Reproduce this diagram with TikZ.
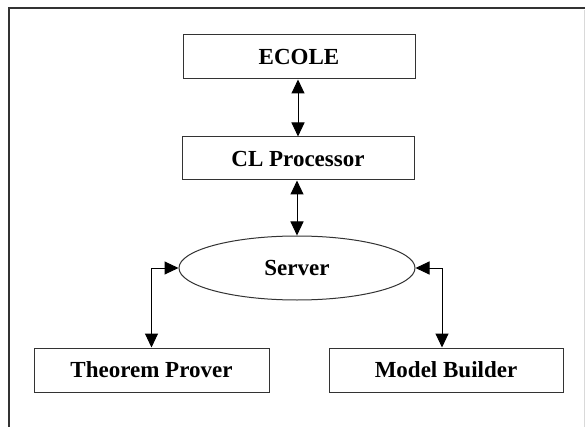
\documentclass[tikz,border=0pt]{standalone}
\usepackage{fontspec}
\setmainfont{Liberation Serif}
\usetikzlibrary{arrows.meta,shapes.geometric}
\begin{document}
\begin{tikzpicture}[x=1pt,y=-1pt,
  lbl/.style={font=\fontsize{23}{26}\selectfont\bfseries},
  box/.style={draw=black!80,line width=1pt,rectangle,inner sep=0pt,lbl},
  link/.style={line width=1pt,{Triangle[length=14pt,width=13pt]}-{Triangle[length=14pt,width=13pt]}}]
\useasboundingbox (0,0) rectangle (585,427);
\fill[white] (0,0) rectangle (585,427);
\draw[black!80,line width=1.5pt] (9,427) -- (9,8) -- (585,8);
\draw[black!15,line width=0.6pt] (584,10) -- (584,427);
\node[box,minimum width=232pt,minimum height=44pt] (ecole) at (299,57) {ECOLE};
\node[box,minimum width=232pt,minimum height=43pt] (cl) at (298,158.5) {CL Processor};
\node[draw=black!80,line width=1pt,ellipse,minimum width=236pt,minimum height=64pt,inner sep=0pt,lbl] (server) at (297,268) {Server};
\node[box,minimum width=235pt,minimum height=44pt] (tp) at (151.5,370) {Theorem Prover};
\node[box,minimum width=234pt,minimum height=44pt] (mb) at (446,370) {Model Builder};
\draw[link] (ecole.south -| cl.north) -- (cl.north);
\draw[link] (cl.south -| server.north) -- (server.north);
\draw[link] (server.west) -| (tp.north);
\draw[link] (server.east) -| ([xshift=-4pt]mb.north);
\end{tikzpicture}
\end{document}
